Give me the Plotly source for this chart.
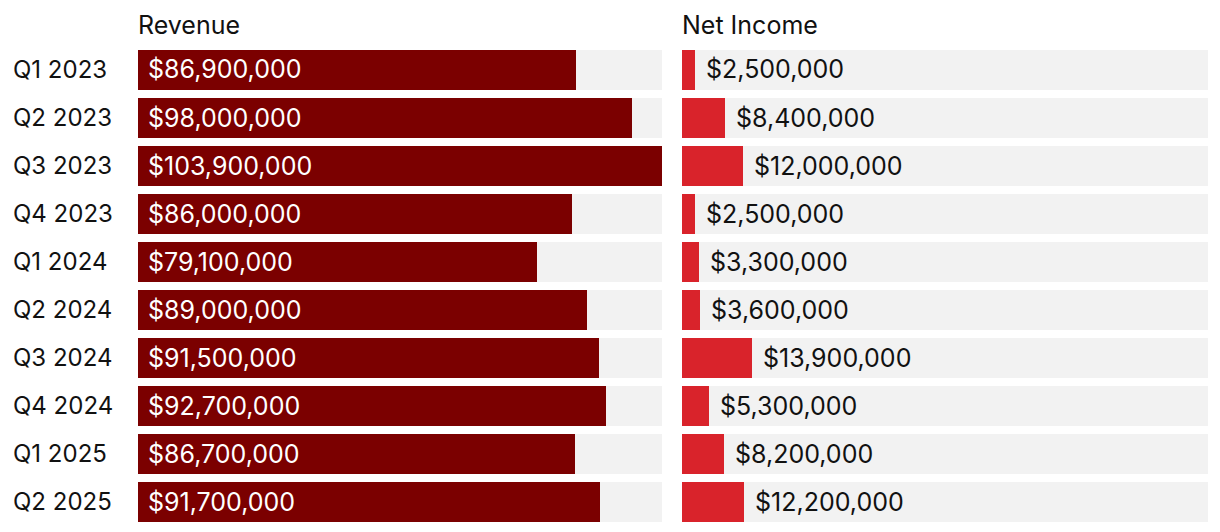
import plotly.graph_objects as go

quarters = ["Q1 2023", "Q2 2023", "Q3 2023", "Q4 2023", "Q1 2024",
            "Q2 2024", "Q3 2024", "Q4 2024", "Q1 2025", "Q2 2025"]
revenue = [86900000, 98000000, 103900000, 86000000, 79100000,
           89000000, 91500000, 92700000, 86700000, 91700000]
net_income = [2500000, 8400000, 12000000, 2500000, 3300000,
              3600000, 13900000, 5300000, 8200000, 12200000]
panel_titles = ["Revenue", "Net Income"]

W, H = 1220, 532
OFF = 8  # page body margin
FONT = "Inter"
FS = 25
FS_Q = 24
DARK = "#7b0000"
RED = "#d9232b"
GRAY = "#f2f2f2"
TXT = "#111111"

xmax = max(revenue)
idx = list(range(len(quarters)))

fig = go.Figure()
bw = 40 / 48

for vals, color, xa, ya in [(revenue, DARK, "x", "y"), (net_income, RED, "x2", "y2")]:
    fig.add_trace(go.Bar(y=idx, x=[xmax] * len(idx), orientation="h", marker_color=GRAY,
                         marker_line_width=0, width=bw, xaxis=xa, yaxis=ya,
                         hoverinfo="skip", showlegend=False))
    fig.add_trace(go.Bar(y=idx, x=vals, orientation="h", marker_color=color,
                         marker_line_width=0, width=bw, xaxis=xa, yaxis=ya,
                         showlegend=False))


def px(x):
    return (x - OFF) / W


def py(y):
    return 1 - (y - OFF) / H


annotations = []
for i, q in enumerate(quarters):
    annotations.append(dict(xref="paper", yref="y", x=px(11), y=i, text=q, showarrow=False,
                            xanchor="left", yanchor="middle",
                            font=dict(family=FONT, size=FS_Q, color=TXT)))
    annotations.append(dict(xref="x", yref="y", x=0, y=i, xshift=8, text=f"${revenue[i]:,}",
                            showarrow=False, xanchor="left", yanchor="middle",
                            font=dict(family=FONT, size=FS, color="white")))
    annotations.append(dict(xref="x2", yref="y2", x=net_income[i], y=i, xshift=9,
                            text=f"${net_income[i]:,}", showarrow=False,
                            xanchor="left", yanchor="middle",
                            font=dict(family=FONT, size=FS, color=TXT)))

for t, x0 in zip(panel_titles, [138, 682]):
    annotations.append(dict(xref="paper", yref="paper", x=px(x0 - 2), y=py(25), text=t,
                            showarrow=False, xanchor="left", yanchor="middle",
                            font=dict(family=FONT, size=FS, color=TXT)))

ydom = [py(525.5), py(45.5)]
axis_common = dict(showgrid=False, zeroline=False, showticklabels=False, showline=False,
                   fixedrange=True)
fig.update_layout(
    width=W, height=H,
    margin=dict(l=0, r=0, t=0, b=0),
    paper_bgcolor="white", plot_bgcolor="white",
    barmode="overlay", bargap=0,
    xaxis=dict(domain=[px(138), px(662)], range=[0, xmax], **axis_common),
    xaxis2=dict(domain=[px(682), px(1208)], range=[0, xmax], **axis_common),
    yaxis=dict(domain=ydom, range=[9.5, -0.5], **axis_common),
    yaxis2=dict(domain=ydom, range=[9.5, -0.5], anchor="x2", **axis_common),
    annotations=annotations,
    font=dict(family=FONT),
)

fig.write_html("out.html")
